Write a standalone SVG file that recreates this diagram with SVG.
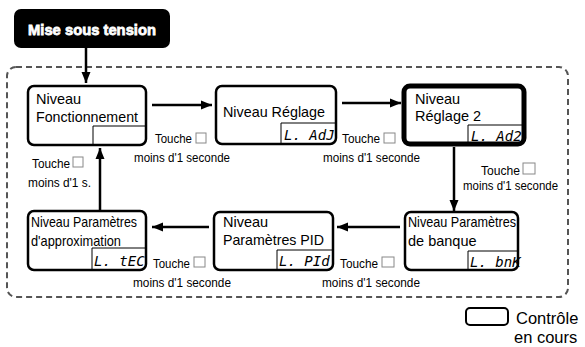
<svg xmlns="http://www.w3.org/2000/svg" width="585" height="347" viewBox="0 0 585 347">
<defs>
<marker id="ah" markerUnits="userSpaceOnUse" markerWidth="12" markerHeight="12" viewBox="0 0 12 12" refX="11" refY="6" orient="auto">
<path d="M0,1.5 L11,6 L0,10.5 Z" fill="#000"/>
</marker>
<style>
.node{fill:#fff;stroke:#000;stroke-width:2.5}
.thick{stroke-width:5}
.t{font-family:"Liberation Sans",Arial,sans-serif;font-size:14.5px;fill:#000}
.lbl{font-family:"Liberation Sans",Arial,sans-serif;font-size:13.5px;fill:#000}
.seg{font-family:"DejaVu Sans Mono",monospace;font-size:14px;font-style:oblique;fill:#000}
.key{fill:#fff;stroke:#888;stroke-width:1}
.arr{stroke:#000;stroke-width:2.5;fill:none;marker-end:url(#ah)}
</style>
</defs>
<rect width="585" height="347" fill="#fff"/>
<rect x="7" y="67" width="561" height="230" rx="9" fill="none" stroke="#555" stroke-width="2" stroke-dasharray="6,4"/>
<g id="title">
<rect x="14" y="9" width="156" height="39" rx="7" fill="#000"/>
<text x="92" y="35" text-anchor="middle" font-family="'Liberation Sans',Arial,sans-serif" font-size="15.5" font-weight="bold" fill="#fff" stroke="#fff" stroke-width="0.8" textLength="128" lengthAdjust="spacingAndGlyphs">Mise sous tension</text>
</g>
<g id="connectors">
<line class="arr" x1="86" y1="48" x2="86" y2="83"/>
<line class="arr" x1="152" y1="105" x2="212" y2="105"/>
<line class="arr" x1="342" y1="103" x2="401" y2="103"/>
<line class="arr" x1="454" y1="147" x2="454" y2="211"/>
<line class="arr" x1="400" y1="227" x2="337" y2="227"/>
<line class="arr" x1="209" y1="227" x2="152" y2="227"/>
<line class="arr" x1="100" y1="211" x2="100" y2="148"/>
</g>
<g id="labels">
<text class="lbl" x="155" y="143" textLength="37" lengthAdjust="spacingAndGlyphs">Touche</text>
<rect class="key" x="196" y="133" width="10" height="10"/>
<text class="lbl" x="134" y="162" textLength="96" lengthAdjust="spacingAndGlyphs">moins d'1 seconde</text>
<text class="lbl" x="342" y="143" textLength="38" lengthAdjust="spacingAndGlyphs">Touche</text>
<rect class="key" x="384" y="133" width="11" height="10"/>
<text class="lbl" x="323" y="162" textLength="97" lengthAdjust="spacingAndGlyphs">moins d'1 seconde</text>
<text class="lbl" x="481" y="175" textLength="39" lengthAdjust="spacingAndGlyphs">Touche</text>
<rect class="key" x="523" y="163" width="12" height="11"/>
<text class="lbl" x="463" y="190" textLength="95" lengthAdjust="spacingAndGlyphs">moins d'1 seconde</text>
<text class="lbl" x="32" y="168" textLength="38" lengthAdjust="spacingAndGlyphs">Touche</text>
<rect class="key" x="73" y="157" width="10" height="10"/>
<text class="lbl" x="28" y="187" textLength="63" lengthAdjust="spacingAndGlyphs">moins d'1 s.</text>
<text class="lbl" x="153" y="268" textLength="37" lengthAdjust="spacingAndGlyphs">Touche</text>
<rect class="key" x="194" y="257" width="11" height="10"/>
<text class="lbl" x="133" y="287" textLength="98" lengthAdjust="spacingAndGlyphs">moins d'1 seconde</text>
<text class="lbl" x="340" y="268" textLength="38" lengthAdjust="spacingAndGlyphs">Touche</text>
<rect class="key" x="382" y="257" width="12" height="10"/>
<text class="lbl" x="322" y="287" textLength="98" lengthAdjust="spacingAndGlyphs">moins d'1 seconde</text>
</g>
<g id="n-fonctionnement">
<rect class="node" x="28" y="86" width="118" height="59" rx="6"/>
<text class="t" x="36" y="104">Niveau</text>
<text class="t" x="36" y="122" textLength="102" lengthAdjust="spacingAndGlyphs">Fonctionnement</text>
<path d="M93,145 V126 H146" fill="none" stroke="#000" stroke-width="1"/>
</g>
<g id="n-reglage">
<rect class="node" x="216" y="86" width="120" height="58" rx="6"/>
<text class="t" x="223" y="117" textLength="102" lengthAdjust="spacingAndGlyphs">Niveau Réglage</text>
<path d="M281,144 V123 H336" fill="none" stroke="#000" stroke-width="1"/>
<text class="seg" x="284" y="140">L. AdJ</text>
</g>
<g id="n-reglage2">
<rect class="node thick" x="404" y="86" width="120" height="58" rx="6"/>
<text class="t" x="415" y="104">Niveau</text>
<text class="t" x="415" y="121">Réglage 2</text>
<path d="M468,144 V125 H524" fill="none" stroke="#000" stroke-width="1"/>
<text class="seg" x="471" y="141">L. Ad2</text>
</g>
<g id="n-banque">
<rect class="node" x="405" y="212" width="113" height="58" rx="6"/>
<text class="t" x="408" y="227" textLength="108" lengthAdjust="spacingAndGlyphs">Niveau Paramètres</text>
<text class="t" x="408" y="246">de banque</text>
<path d="M468,270 V251 H518" fill="none" stroke="#000" stroke-width="1"/>
<text class="seg" x="470" y="267">L. bnK</text>
</g>
<g id="n-pid">
<rect class="node" x="214" y="212" width="119" height="58" rx="6"/>
<text class="t" x="223" y="227">Niveau</text>
<text class="t" x="223" y="245" textLength="101" lengthAdjust="spacingAndGlyphs">Paramètres PID</text>
<path d="M277,270 V250 H333" fill="none" stroke="#000" stroke-width="1"/>
<text class="seg" x="279" y="266">L. PId</text>
</g>
<g id="n-approximation">
<rect class="node" x="28" y="211" width="118" height="59" rx="6"/>
<text class="t" x="31" y="227" textLength="106" lengthAdjust="spacingAndGlyphs">Niveau Paramètres</text>
<text class="t" x="31" y="246" textLength="90" lengthAdjust="spacingAndGlyphs">d'approximation</text>
<path d="M92,270 V248 H146" fill="none" stroke="#000" stroke-width="1"/>
<text class="seg" x="94" y="266">L. tEC</text>
</g>
<g id="legend">
<rect x="466" y="308" width="42" height="17" rx="4" fill="#fff" stroke="#000" stroke-width="2"/>
<text x="516" y="324" font-family="'Liberation Sans',Arial,sans-serif" font-size="16.5" fill="#000">Contrôle</text>
<text x="514" y="343" font-family="'Liberation Sans',Arial,sans-serif" font-size="16.5" fill="#000">en cours</text>
</g>
</svg>
